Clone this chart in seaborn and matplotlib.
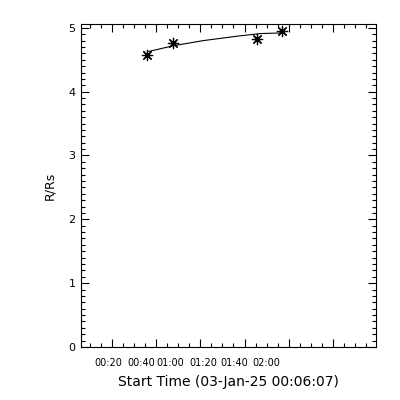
import matplotlib
matplotlib.use("Agg")
import matplotlib.pyplot as plt
import seaborn as sns
import numpy as np
from matplotlib.ticker import MultipleLocator

# height-time measurements (minutes after 00:00 on 03-Jan-25, R/Rs)
obs_time = [36.1, 47.8, 85.8, 97.0]
obs_height = [4.57, 4.76, 4.83, 4.95]

# fitted curve
fit_time = [36.7, 47.9, 61.4, 76.8, 87.1, 96.6]
fit_height = [4.63, 4.72, 4.80, 4.87, 4.91, 4.92]

tick_labels = ["00:20", "00:40", "01:00", "01:20", "01:40", "02:00"]
xlabel = "Start Time (03-Jan-25 00:06:07)"
ylabel = "R/Rs"

sns.set_style("ticks")
plt.rcParams['font.family'] = ['DejaVu Sans']
plt.rcParams['text.color'] = 'black'
plt.rcParams['axes.labelcolor'] = 'black'

fig = plt.figure(figsize=(4, 4), dpi=100)
ax = fig.add_axes([0.2025, 0.1325, 0.7375, 0.8075])

sns.lineplot(x=fit_time, y=fit_height, color='black', linewidth=0.8, ax=ax)
sns.scatterplot(x=obs_time, y=obs_height, marker=(8, 2, 0), s=55,
                color='black', linewidth=0.9, ax=ax)

ax.set_xlim(6.1, 139.4)
ax.set_ylim(0, 5.06)

# x: major every 20 min, minor every 5 min; labels drawn separately
ax.xaxis.set_major_locator(MultipleLocator(20))
ax.xaxis.set_minor_locator(MultipleLocator(5))
ax.set_xticklabels([])
ax.yaxis.set_major_locator(MultipleLocator(1))
ax.yaxis.set_minor_locator(MultipleLocator(0.1))

ax.tick_params(which='both', direction='in', top=True, right=True,
               width=0.8, colors='black', labelsize=8)
ax.tick_params(which='major', length=6)
ax.tick_params(which='minor', length=3)
ax.tick_params(axis='y', which='major', pad=4)
for s in ax.spines.values():
    s.set_visible(True)
    s.set_linewidth(0.8)
    s.set_color('black')

# IDL style time labels (placed where they appear, not on the ticks)
label_pos = [18.6, 33.1, 46.6, 61.4, 75.4, 89.8]
for t, lab in zip(label_pos, tick_labels):
    ax.text(t, -0.05, lab, transform=ax.get_xaxis_transform(),
            ha='center', va='center', fontsize=7)

ax.text(0.5, -0.108, xlabel, transform=ax.transAxes, ha='center',
        va='center', fontsize=10)
ax.set_ylabel(ylabel, fontsize=9, labelpad=9)
ax.set_xlabel("")

fig.savefig("out.png", dpi=100, facecolor='white')
